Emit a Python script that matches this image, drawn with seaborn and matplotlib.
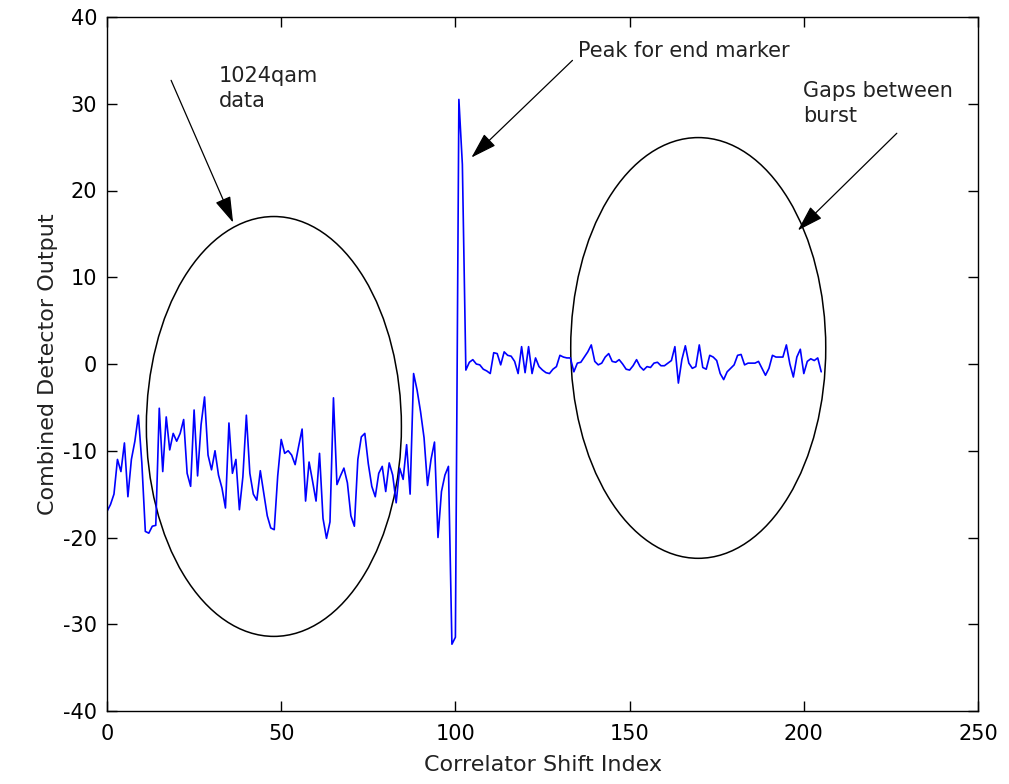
import numpy as np
import pandas as pd
import matplotlib
matplotlib.use("Agg")
import matplotlib.pyplot as plt
from matplotlib.patches import Ellipse
import seaborn as sns

# ---- data ----
shift_index = list(range(206))
detector_output = [
    -17.0, -16.2, -15.0, -11.0, -12.4, -9.1, -15.3, -11.0, -8.9, -5.9,
    -11.4, -19.3, -19.5, -18.7, -18.6, -5.1, -12.4, -6.1, -9.9, -8.0,
    -8.9, -8.0, -6.4, -12.6, -14.1, -5.3, -12.9, -7.0, -3.8, -10.5,
    -12.2, -10.0, -12.8, -14.3, -16.6, -6.8, -12.6, -11.0, -16.8, -13.0,
    -5.9, -12.6, -15.0, -15.7, -12.3, -14.9, -17.5, -18.9, -19.1, -12.9,
    -8.7, -10.3, -10.0, -10.5, -11.6, -9.5, -7.5, -15.8, -11.3, -13.5,
    -15.8, -10.3, -17.8, -20.1, -18.2, -3.9, -13.9, -12.9, -12.0, -13.7,
    -17.5, -18.7, -11.0, -8.4, -8.0, -11.5, -14.1, -15.3, -12.6, -11.8,
    -14.7, -11.4, -12.8, -16.0, -12.0, -13.3, -9.3, -15.0, -1.1, -3.0,
    -5.5, -8.5, -14.0, -11.0, -9.0, -20.0, -14.7, -12.8, -11.8, -32.3,
    -31.5, 30.5, 23.0, -0.7, 0.2, 0.5, 0.0, -0.1, -0.6, -0.8,
    -1.1, 1.3, 1.2, -0.1, 1.4, 1.0, 0.9, 0.3, -1.1, 2.0,
    -1.0, 2.0, -1.1, 0.7, -0.3, -0.7, -1.0, -1.1, -0.6, -0.3,
    1.0, 0.8, 0.7, 0.7, -0.9, 0.1, 0.2, 0.8, 1.4, 2.2,
    0.3, -0.1, 0.1, 0.8, 1.2, 0.3, 0.2, 0.5, 0.0, -0.6,
    -0.7, -0.2, 0.5, -0.3, -0.7, -0.3, -0.4, 0.1, 0.2, -0.2,
    -0.2, 0.1, 0.4, 2.0, -2.2, 0.5, 2.1, 0.1, -0.5, -0.3,
    2.2, -0.4, -0.6, 1.0, 0.8, 0.4, -1.1, -1.8, -0.9, -0.5,
    -0.1, 1.0, 1.1, -0.1, 0.1, 0.1, 0.1, 0.3, -0.5, -1.3,
    -0.5, 1.0, 0.8, 0.8, 0.8, 2.2, 0.0, -1.5, 0.8, 1.7,
    -1.1, 0.3, 0.6, 0.4, 0.7, -0.9,
]
x_ticks = [0, 50, 100, 150, 200, 250]
y_ticks = [-40, -30, -20, -10, 0, 10, 20, 30, 40]
x_label = "Correlator Shift Index"
y_label = "Combined Detector Output"
note_qam = "1024qam\ndata"
note_peak = "Peak for end marker"
note_gaps = "Gaps between\nburst"

df = pd.DataFrame({"idx": shift_index, "out": detector_output})

sns.set_theme(style="white")
plt.rcParams["font.family"] = ["DejaVu Sans"]
plt.rcParams["axes.unicode_minus"] = False

fig = plt.figure(figsize=(10.09, 7.84), dpi=100)
ax = fig.add_axes([107 / 1009, 1 - 711 / 784, (978 - 107) / 1009, (711 - 17) / 784])

sns.lineplot(data=df, x="idx", y="out", color="#0000ff", linewidth=1.2, ax=ax)

ax.set_xlim(0, 250)
ax.set_ylim(-40, 40)
ax.set_xticks(x_ticks)
ax.set_yticks(y_ticks)
ax.tick_params(direction="in", length=7, width=1, colors="black",
               labelsize=15, top=True, right=True, bottom=True, left=True)
ax.tick_params(axis="x", pad=9)
ax.tick_params(axis="y", pad=7)
for s in ax.spines.values():
    s.set_color("black")
    s.set_linewidth(1.0)
ax.set_xlabel(x_label, fontsize=16, color="#222222", labelpad=8)
ax.set_ylabel(y_label, fontsize=16, color="#222222", labelpad=4)

# annotation ellipses
ax.add_patch(Ellipse((47.9, -7.2), 73.2, 48.4, fill=False, edgecolor="black", lw=1.1))
ax.add_patch(Ellipse((169.7, 1.85), 73.2, 48.5, fill=False, edgecolor="black", lw=1.1))

arrow = dict(arrowstyle="-|>,head_length=0.9,head_width=0.28", color="black",
             lw=0.9, mutation_scale=18, shrinkA=0, shrinkB=0)
ax.annotate("", xy=(36.2, 16.3), xytext=(18.4, 32.7), arrowprops=arrow)
ax.annotate("", xy=(104.6, 23.8), xytext=(133.6, 35.0), arrowprops=arrow)
ax.annotate("", xy=(198.3, 15.4), xytext=(226.7, 26.6), arrowprops=arrow)

ax.text(32.2, 34.3, note_qam, fontsize=15, va="top", ha="left", color="#222222", linespacing=1.3)
ax.text(135.3, 36.1, note_peak, fontsize=15, va="center", ha="left", color="#222222")
ax.text(199.7, 32.6, note_gaps, fontsize=15, va="top", ha="left", color="#222222", linespacing=1.3)

fig.savefig("out.png", dpi=100, facecolor="white")
